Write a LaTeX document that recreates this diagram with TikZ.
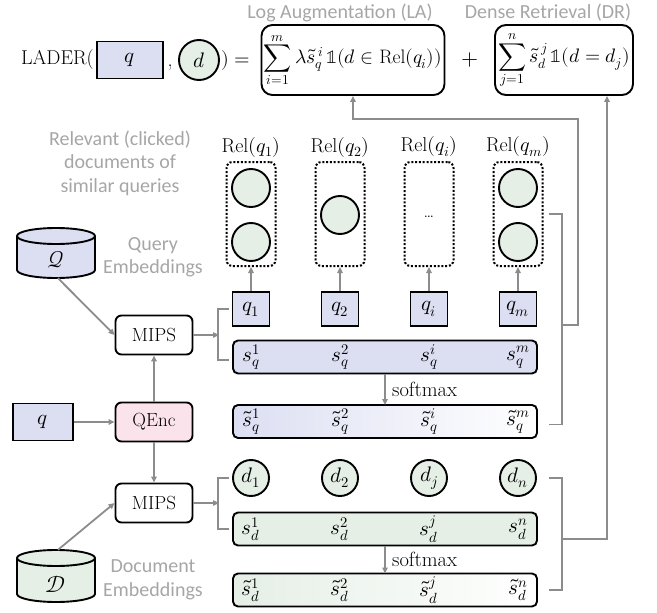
\documentclass[tikz,border=0pt]{standalone}
\usepackage{fontspec}
\usepackage{unicode-math}
\setmathfont{Latin Modern Math}
\newfontfamily\lblfont{Carlito}
\usetikzlibrary{arrows.meta,calc}
\definecolor{qblue}{HTML}{DCDFF2}
\definecolor{dgreen}{HTML}{E5EFE6}
\definecolor{qpink}{HTML}{FBE3EB}
\definecolor{lgray}{HTML}{8C8C8C}
\definecolor{tgray}{HTML}{A6A6A6}
\begin{document}
\begin{tikzpicture}[x=1pt,y=-1pt,font=\fontsize{19}{22}\selectfont,
  blk/.style={draw=black,line width=1.9pt},
  qsq/.style={blk,fill=qblue,minimum width=37pt,minimum height=34pt,inner sep=0,font=\fontsize{21}{24}\selectfont},
  dc/.style={blk,circle,fill=dgreen,minimum size=36pt,inner sep=0},
  relc/.style={blk,circle,fill=dgreen,minimum size=38pt,inner sep=0},
  relbox/.style={draw=black,line width=2pt,dash pattern=on 2pt off 1.8pt,rounded corners=6pt,minimum width=49pt,minimum height=104pt,inner sep=0},
  row/.style={blk,rounded corners=5pt,minimum width=304pt,minimum height=33pt,inner sep=0},
  opbox/.style={blk,rounded corners=6pt,minimum width=77pt,minimum height=39pt,inner sep=0},
  fmbox/.style={blk,rounded corners=11pt,minimum height=70pt,inner sep=0},
  conn/.style={draw=lgray,line width=1.8pt,-{Triangle[length=6pt,width=5.5pt]}},
  gline/.style={draw=lgray,line width=1.8pt},
  glbl/.style={text=tgray,font=\lblfont\fontsize{20}{23.5}\selectfont,align=center,inner sep=0},
  cell/.style={inner sep=0},
  mcell/.style={inner sep=0,font=\fontsize{21}{24}\selectfont},
  smlbl/.style={inner sep=0,anchor=west,font=\fontsize{20.5}{24}\selectfont}]
\useasboundingbox (0,0) rectangle (657,613);

% ---------- top formula ----------
\node[cell,anchor=east,font=\fontsize{20}{24}\selectfont] (lader) at (94,60) {LADER(};
\node[blk,fill=qblue,minimum width=66pt,minimum height=37pt,inner sep=0,font=\fontsize{21}{24}\selectfont] (tq) at (130,60) {$q$};
\node[cell,anchor=base,font=\fontsize{20}{24}\selectfont] (comma) at (170,66) {,};
\node[blk,circle,fill=dgreen,minimum size=40pt,inner sep=0,font=\fontsize{21}{24}\selectfont] (td) at (199,60) {$d$};
\node[cell,anchor=west,font=\fontsize{20}{24}\selectfont] (eq) at (221,60) {$)=$};
\node[fmbox,minimum width=183pt,font=\fontsize{19.5}{22}\selectfont] (la) at (353,60)
  {$\displaystyle\sum_{i=1}^{m}\lambda\tilde{s}_q^{\,i}\,\symbb{1}(d\in\mathrm{Rel}(q_i))$};
\node[cell,font=\fontsize{22}{24}\selectfont] (plus) at (470,60) {$+$};
\node[fmbox,minimum width=138pt,font=\fontsize{19.5}{22}\selectfont] (dr) at (564,60)
  {$\displaystyle\sum_{j=1}^{n}\tilde{s}_d^{\,j}\,\symbb{1}(d=d_j)$};
\node[glbl] (lalbl) at (340,13) {Log Augmentation (LA)};
\node[glbl] (drlbl) at (548,13) {Dense Retrieval (DR)};

% ---------- left gray labels ----------
\node[glbl] (rellbl) at (120,163) {Relevant (clicked)\\documents of\\similar queries};
\node[glbl] (qelbl) at (153,257) {Query\\Embeddings};
\node[glbl] (delbl) at (153,580) {Document\\Embeddings};

% ---------- cylinders ----------
\node[minimum width=78pt,minimum height=50pt,inner sep=0] (Qdb) at (56,253) {};
\fill[qblue] (17,236) rectangle (95,270);
\fill[qblue] (56,270) ellipse [x radius=39,y radius=8];
\begin{scope}
  \clip (5,270) rectangle (107,290);
  \draw[blk] (56,270) ellipse [x radius=39,y radius=8];
\end{scope}
\draw[blk] (17,236) -- (17,270) (95,236) -- (95,270);
\filldraw[blk,fill=qblue] (56,236) ellipse [x radius=39,y radius=8];
\node[cell,font=\fontsize{23}{24}\selectfont] (Qsym) at (56,260) {$\mathcal{Q}$};

\node[minimum width=78pt,minimum height=52pt,inner sep=0] (Ddb) at (56,576) {};
\fill[dgreen] (17,558) rectangle (95,594);
\fill[dgreen] (56,594) ellipse [x radius=39,y radius=8];
\begin{scope}
  \clip (5,594) rectangle (107,613);
  \draw[blk] (56,594) ellipse [x radius=39,y radius=8];
\end{scope}
\draw[blk] (17,558) -- (17,594) (95,558) -- (95,594);
\filldraw[blk,fill=dgreen] (56,558) ellipse [x radius=39,y radius=8];
\node[cell,font=\fontsize{23}{24}\selectfont] (Dsym) at (56,584) {$\mathcal{D}$};

% ---------- left pipeline ----------
\node[opbox,fill=white] (mips1) at (154,335) {MIPS};
\node[opbox,fill=qpink] (qenc) at (154,422) {QEnc};
\node[opbox,fill=white] (mips2) at (154,503) {MIPS};
\node[blk,fill=qblue,minimum width=60pt,minimum height=37pt,inner sep=0,font=\fontsize{21}{24}\selectfont] (qin) at (43,422) {$q$};

\draw[conn] ($(Qdb.south)+(2,0)$) -- (mips1.west);
\draw[conn] ($(Ddb.north)+(2,0)$) -- (mips2.west);
\draw[conn] (qin) -- (qenc);
\draw[conn] (qenc) -- (mips1);
\draw[conn] (qenc) -- (mips2);

% ---------- query side ----------
\foreach \x/\k in {251/1,340/2,429/i,518/m}{
  \node[qsq] (q\k) at (\x,309) {$q_{\k}$};
  \node[relbox] (rel\k) at (\x,214) {};
  \node[cell,font=\fontsize{20}{24}\selectfont] (rl\k) at (\x,147) {$\mathrm{Rel}(q_{\k})$};
  \draw[conn] (q\k) -- (rel\k);
  \node[dc] (d\k) at (\x,478) {};
}
\node[relc] (c1a) at (251,188) {};
\node[relc] (c1b) at (251,242) {};
\node[relc] (c2a) at (340,215) {};
\node[cell,font=\fontsize{18}{18}\selectfont] (cia) at (429,217) {\ldots};
\node[relc] (cma) at (518,188) {};
\node[relc] (cmb) at (518,242) {};

\node[row,fill=qblue] (sq) at (385,357) {};
\node[row,left color=qblue,right color=white] (stq) at (385,421.5) {};
\node[row,fill=dgreen] (sd) at (385,529) {};
\node[row,left color=dgreen,right color=white] (std) at (385,590) {};

\foreach \x/\k in {251/1,340/2,429/i,518/m}{
  \node[mcell] (sql\k) at (\x,357) {$s_q^{\k}$};
  \node[mcell] (stql\k) at (\x,421.5) {$\tilde{s}_q^{\k}$};
}
\foreach \x/\k in {251/1,340/2,429/j,518/n}{
  \node[mcell] (dl\k) at (\x,478) {$d_{\k}$};
  \node[mcell] (sdl\k) at (\x,529) {$s_d^{\k}$};
  \node[mcell] (stdl\k) at (\x,590) {$\tilde{s}_d^{\k}$};
}

% softmax
\draw[conn] (385,373.5) -- (385,405);
\node[smlbl] (sm1) at (392,389) {softmax};
\draw[conn] (385,545.5) -- (385,573.5);
\node[smlbl] (sm2) at (392,559) {softmax};

% left brackets
\coordinate (br1) at (219,335);
\coordinate (br2) at (219,503);
\draw[conn] (mips1.east) -- (br1);
\draw[conn] (mips2.east) -- (br2);
\draw[gline] ($(q1.west)+(-3,0)$) -| ($(sq.west)+(-14,3)$) -- ($(sq.west)+(-3,3)$);
\draw[gline] ($(d1.west)+(-3,0)$) -| ($(sd.west)+(-14,0)$) -- ($(sd.west)+(-3,0)$);

% right brackets
\draw[gline] ($(relm.east)+(5,0)$) -| ($(stq.east)+(24,3)$) -- ($(stq.east)+(11,3)$);
\draw[gline] ($(dm.east)+(12,0)$) -| ($(std.east)+(24,0)$) -- ($(std.east)+(11,0)$);
\coordinate (mq) at (561,325);
\coordinate (md) at (561,539);
\draw[conn] (mq) -| (578,119) -| (la.south);
\draw[conn] (md) -| ($(dr.south)+(43,0)$);
\end{tikzpicture}
\end{document}
